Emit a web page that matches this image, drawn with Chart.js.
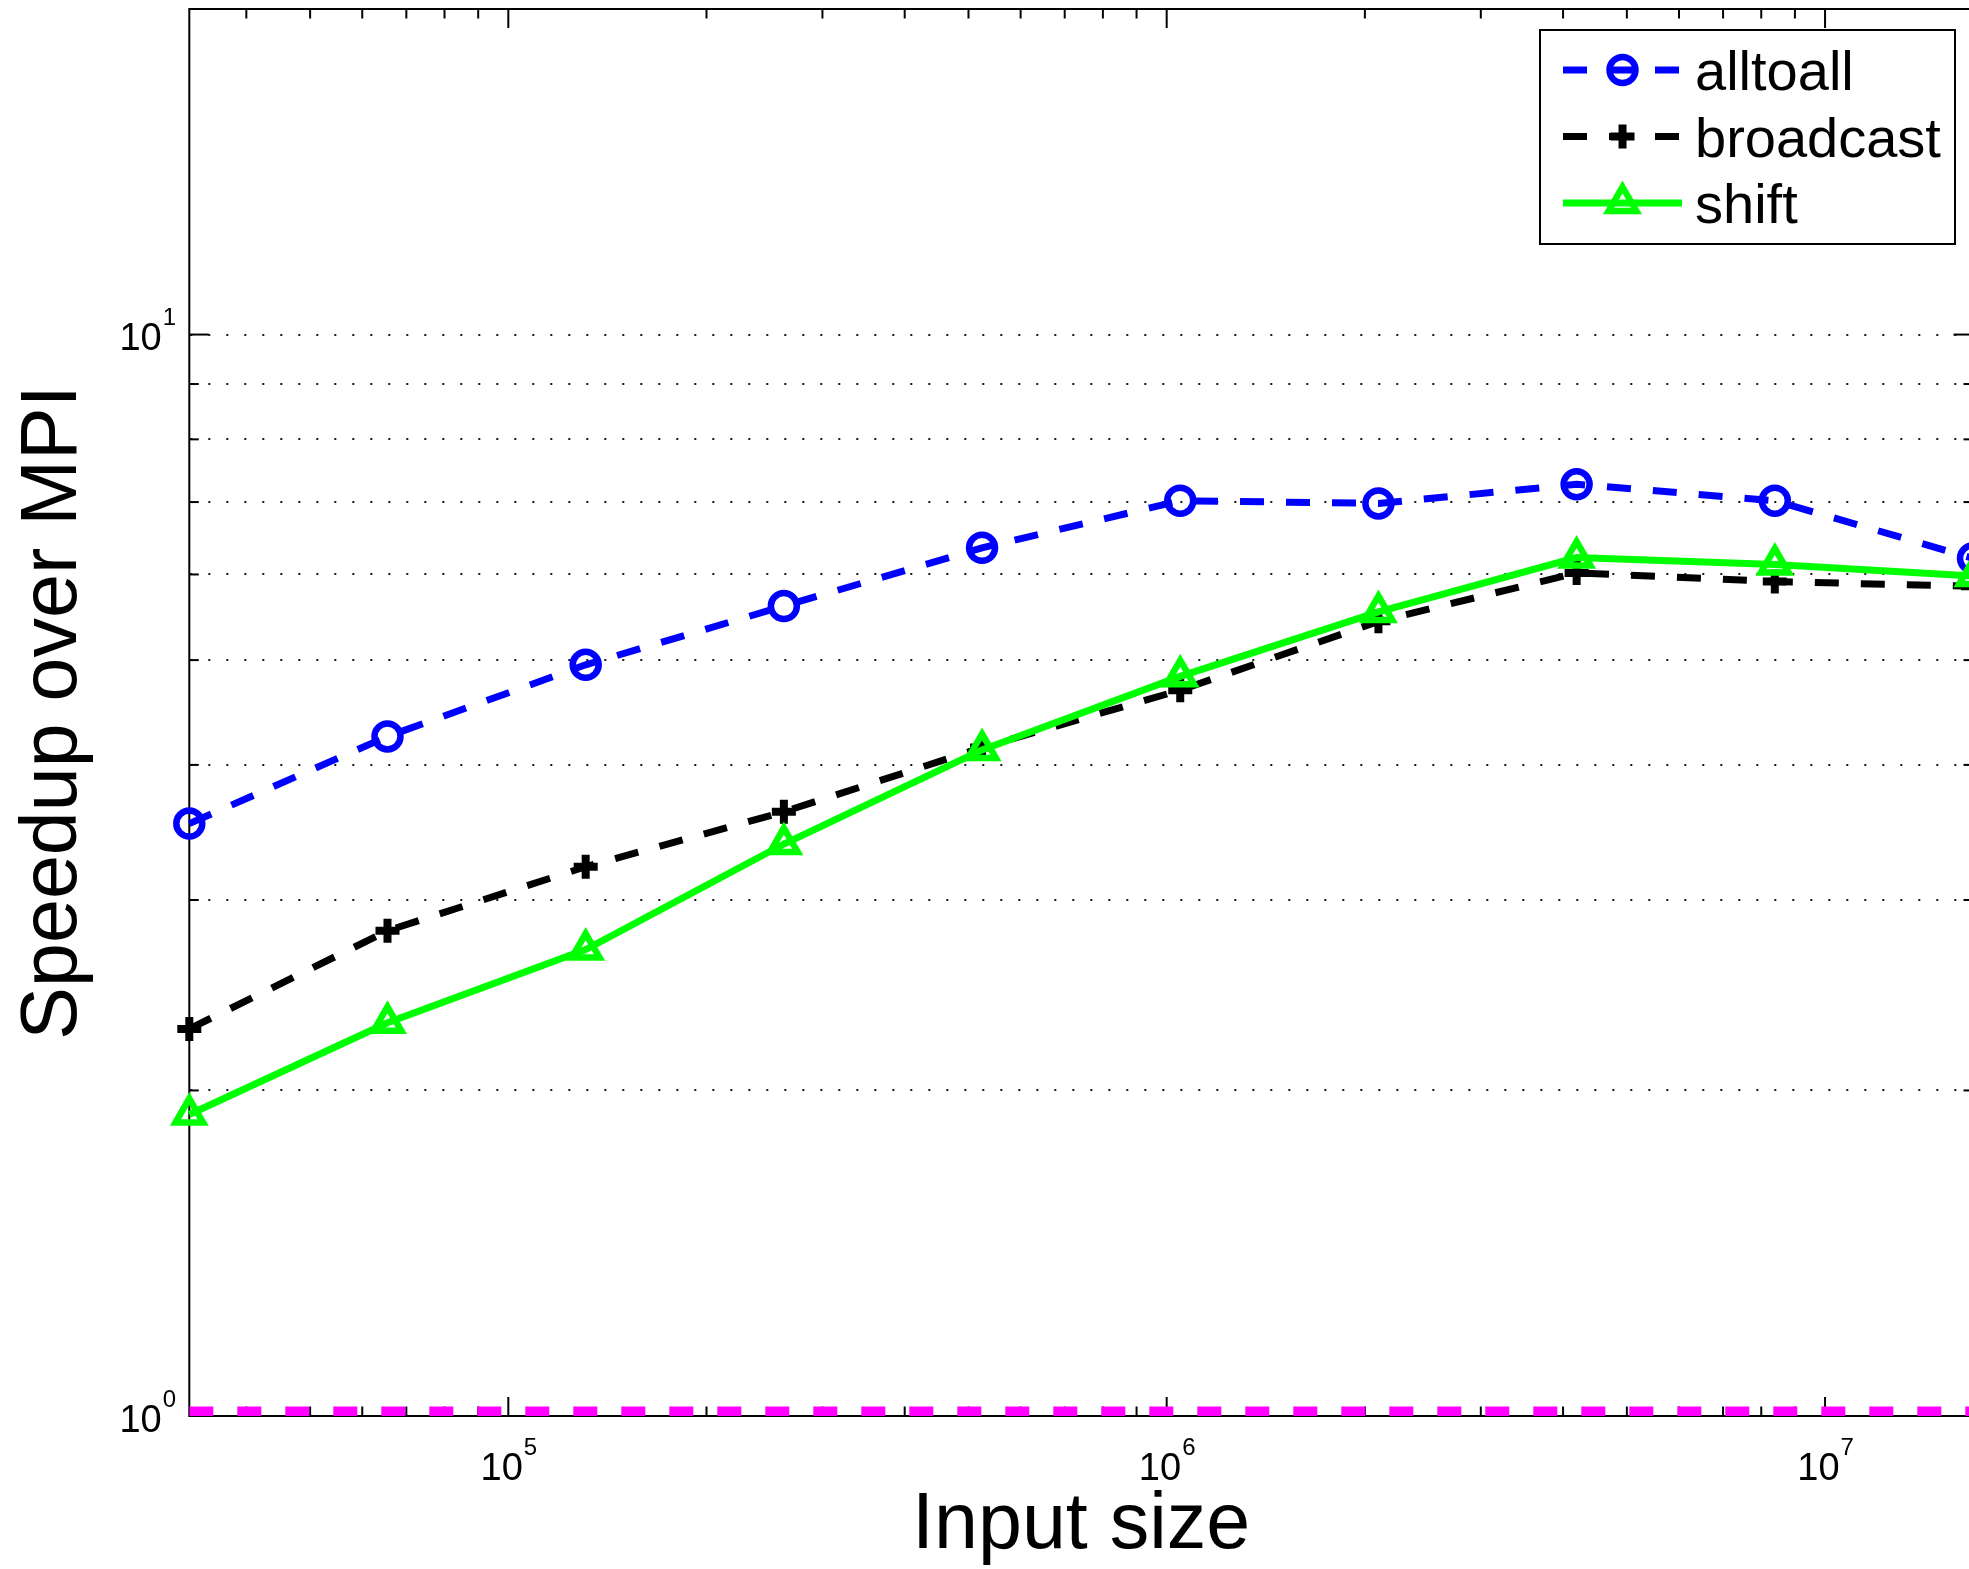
<!DOCTYPE html>
<html>
<head>
<meta charset="UTF-8" />
<title>Speedup over MPI</title>
<script src="https://cdn.jsdelivr.net/npm/chart.js"></script>
<style>
  html, body { margin: 0; padding: 0; background: #fff; overflow: hidden; }
  #wrap { width: 2000px; height: 1569px; }
</style>
</head>
<body>
<div id="wrap"><canvas id="speedupChart" width="2000" height="1569"></canvas></div>
<script>
// input sizes are powers of two, 2^15 .. 2^24
const inputSizes = [32768, 65536, 131072, 262144, 524288, 1048576, 2097152, 4194304, 8388608, 16777216];
const alltoall  = [3.53, 4.25, 4.95, 5.61, 6.35, 7.02, 6.98, 7.27, 7.02, 6.21];
const broadcast = [2.28, 2.81, 3.22, 3.62, 4.15, 4.69, 5.43, 6.02, 5.91, 5.85];
const shift     = [1.90, 2.31, 2.70, 3.38, 4.13, 4.83, 5.54, 6.22, 6.13, 5.98];
const mpiBaseline = [1, 1, 1, 1, 1, 1, 1, 1, 1, 1];

const xTickValues = [1e5, 1e6, 1e7];
const xTickLabels = ['10^5', '10^6', '10^7'];
const yTickValues = [1, 10];
const yTickLabels = ['10^0', '10^1'];
const yGridValues = [2, 3, 4, 5, 6, 7, 8, 9, 10];

const FONT = '"Liberation Sans", Arial, Helvetica, sans-serif';

const toPoints = values => values.map((v, i) => ({ x: inputSizes[i], y: v }));

function drawMarker(ctx, style, x, y, r) {
  ctx.beginPath();
  if (style === 'circle') {
    ctx.arc(x, y, r, 0, Math.PI * 2);
  } else if (style === 'cross') {
    ctx.moveTo(x, y - r); ctx.lineTo(x, y + r);
    ctx.moveTo(x - r, y); ctx.lineTo(x + r, y);
  } else if (style === 'triangle') {
    ctx.moveTo(x, y - r);
    ctx.lineTo(x + r * 0.866, y + r / 2);
    ctx.lineTo(x - r * 0.866, y + r / 2);
    ctx.closePath();
  }
  ctx.stroke();
}

function logTicks(min, max) {
  const out = [];
  for (let e = Math.floor(Math.log10(min)); e <= Math.ceil(Math.log10(max)); e++) {
    for (let m = 1; m < 10; m++) {
      const v = m * Math.pow(10, e);
      if (v >= min && v <= max) out.push({ v, major: m === 1 });
    }
  }
  return out;
}

function powerLabel(ctx, text, x, y, align) {
  const [base, exp] = text.split('^');
  ctx.font = '38px ' + FONT;
  const wb = ctx.measureText(base).width;
  ctx.font = '24px ' + FONT;
  const we = ctx.measureText(exp).width;
  const start = align === 'right' ? x - wb - we : x - (wb + we) / 2;
  ctx.textAlign = 'left';
  ctx.textBaseline = 'alphabetic';
  ctx.font = '38px ' + FONT;
  ctx.fillText(base, start, y);
  ctx.font = '24px ' + FONT;
  ctx.fillText(exp, start + wb + 1, y - 25);
}

// matlab style box, inward ticks, dotted minor grid, tick labels and legend
const matlabAxes = {
  id: 'matlabAxes',
  beforeDatasetsDraw(chart) {
    const { ctx, chartArea: a, scales: { x, y } } = chart;
    ctx.save();
    ctx.strokeStyle = '#1a1a1a';
    ctx.lineWidth = 2;
    ctx.setLineDash([2, 16]);
    ctx.lineDashOffset = -1;
    yGridValues.forEach(v => {
      const py = Math.round(y.getPixelForValue(v));
      ctx.beginPath(); ctx.moveTo(a.left, py); ctx.lineTo(a.right, py); ctx.stroke();
    });
    ctx.setLineDash([]);
    ctx.strokeStyle = '#000';
    ctx.lineWidth = 2;
    const seg = (x1, y1, x2, y2) => { ctx.beginPath(); ctx.moveTo(x1, y1); ctx.lineTo(x2, y2); ctx.stroke(); };
    logTicks(x.min, x.max).forEach(t => {
      const px = x.getPixelForValue(t.v);
      const len = t.major ? 19 : 9.5;
      seg(px, a.bottom, px, a.bottom - len);
      seg(px, a.top, px, a.top + len);
    });
    logTicks(y.min, y.max).forEach(t => {
      const py = y.getPixelForValue(t.v);
      const len = t.major ? 19.5 : 9.5;
      seg(a.left, py, a.left + len, py);
      seg(a.right, py, a.right - len, py);
    });
    ctx.strokeRect(a.left, a.top, a.right - a.left, a.bottom - a.top);
    ctx.restore();
  },
  afterDraw(chart) {
    const { ctx, scales: { x, y } } = chart;
    ctx.save();
    ctx.fillStyle = '#000';
    xTickValues.forEach((v, i) => powerLabel(ctx, xTickLabels[i], x.getPixelForValue(v), 1480, 'center'));
    yTickValues.forEach((v, i) => powerLabel(ctx, yTickLabels[i], 175, y.getPixelForValue(v) + 15.7, 'right'));

    // legend
    ctx.fillStyle = '#fff';
    ctx.fillRect(1540, 30, 415, 214);
    ctx.strokeStyle = '#000';
    ctx.lineWidth = 2;
    ctx.strokeRect(1540, 30, 415, 214);
    chart.data.datasets.slice(0, 3).forEach((ds, i) => {
      const ry = 70 + i * 66.5;
      ctx.strokeStyle = ds.borderColor;
      ctx.lineWidth = ds.borderWidth;
      ctx.setLineDash(ds.borderDash || []);
      ctx.beginPath(); ctx.moveTo(1563, ry); ctx.lineTo(1682, ry); ctx.stroke();
      ctx.setLineDash([]);
      ctx.lineWidth = ds.pointBorderWidth;
      drawMarker(ctx, ds.pointStyle, 1622.5, ry, ds.pointRadius);
      ctx.fillStyle = '#000';
      ctx.font = '56px ' + FONT;
      ctx.textAlign = 'left';
      ctx.textBaseline = 'alphabetic';
      ctx.fillText(ds.label, 1695, ry + 20);
    });
    ctx.restore();
  }
};

new Chart(document.getElementById('speedupChart'), {
  type: 'line',
  data: {
    datasets: [
      {
        label: 'alltoall', data: toPoints(alltoall),
        borderColor: '#0000ff', borderWidth: 7, borderDash: [24, 22],
        pointStyle: 'circle', pointRadius: 13, pointBorderWidth: 6.5,
        pointBorderColor: '#0000ff', pointBackgroundColor: 'rgba(0,0,0,0)',
        clip: false, order: 2
      },
      {
        label: 'broadcast', data: toPoints(broadcast),
        borderColor: '#000000', borderWidth: 7, borderDash: [24, 22],
        pointStyle: 'cross', pointRadius: 12, pointBorderWidth: 8,
        pointBorderColor: '#000000', pointBackgroundColor: 'rgba(0,0,0,0)',
        clip: false, order: 1
      },
      {
        label: 'shift', data: toPoints(shift),
        borderColor: '#00ff00', borderWidth: 7,
        pointStyle: 'triangle', pointRadius: 16, pointBorderWidth: 6.5,
        pointBorderColor: '#00ff00', pointBackgroundColor: 'rgba(0,0,0,0)',
        clip: false, order: 0
      },
      {
        label: 'MPI', data: toPoints(mpiBaseline),
        borderColor: '#ff00ff', borderWidth: 19, borderDash: [24, 24],
        pointRadius: 0, clip: 0, order: 3
      }
    ]
  },
  options: {
    responsive: false,
    animation: false,
    layout: { autoPadding: false, padding: { left: 0, top: 9, right: 27, bottom: 0 } },
    plugins: { legend: { display: false }, tooltip: { enabled: false } },
    scales: {
      x: {
        type: 'logarithmic', min: 32768, max: 16777216,
        ticks: { display: false }, grid: { display: false }, border: { display: false },
        title: { display: true, text: 'Input size', color: '#000',
                 font: { family: FONT, size: 79, lineHeight: 1 }, padding: { top: 0, bottom: 3.6 } },
        afterFit: s => { s.height = 153; }
      },
      y: {
        type: 'logarithmic', min: 1, max: 20,
        ticks: { display: false }, grid: { display: false }, border: { display: false },
        title: { display: true, text: 'Speedup over MPI', color: '#000',
                 font: { family: FONT, size: 79, lineHeight: 1 }, padding: { top: 14.8, bottom: 0 } },
        afterFit: s => { s.width = 189.3; }
      }
    }
  },
  plugins: [matlabAxes]
});
</script>
</body>
</html>
